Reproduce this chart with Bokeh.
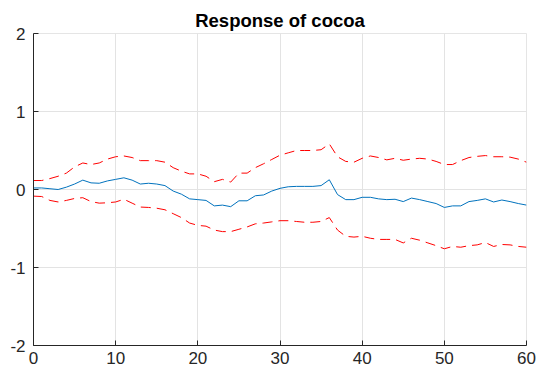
from bokeh.plotting import figure
from bokeh.models import Range1d, FixedTicker
from bokeh.embed import file_html
from bokeh.resources import INLINE

t = list(range(61))
response = [0.02, 0.02, 0.01, 0.0, 0.03, 0.07, 0.12, 0.085, 0.08, 0.11, 0.13, 0.15, 0.12, 0.07, 0.08, 0.07,
            0.05, -0.02, -0.06, -0.12, -0.13, -0.14, -0.21, -0.2, -0.22, -0.145, -0.145, -0.08, -0.07, -0.02, 0.015,
            0.035, 0.04, 0.04, 0.04, 0.05, 0.125, -0.065, -0.13, -0.13, -0.1, -0.1, -0.12, -0.13, -0.125, -0.155,
            -0.11, -0.13, -0.155, -0.18, -0.23, -0.21, -0.21, -0.155, -0.14, -0.12, -0.16, -0.135, -0.155, -0.18, -0.2]
upper = [0.115, 0.115, 0.14, 0.17, 0.21, 0.29, 0.34, 0.32, 0.34, 0.39, 0.42, 0.43, 0.41, 0.37, 0.37, 0.37,
         0.35, 0.28, 0.235, 0.2, 0.2, 0.17, 0.1, 0.13, 0.095, 0.21, 0.21, 0.28, 0.33, 0.385, 0.44,
         0.47, 0.5, 0.5, 0.5, 0.51, 0.585, 0.42, 0.36, 0.35, 0.4, 0.43, 0.41, 0.38, 0.4, 0.375,
         0.39, 0.4, 0.39, 0.36, 0.32, 0.32, 0.37, 0.41, 0.425, 0.435, 0.42, 0.42, 0.415, 0.39, 0.35]
lower = [-0.085, -0.09, -0.14, -0.16, -0.14, -0.115, -0.105, -0.155, -0.175, -0.17, -0.16, -0.125, -0.175, -0.225, -0.23, -0.24,
         -0.26, -0.31, -0.36, -0.43, -0.46, -0.47, -0.52, -0.54, -0.54, -0.51, -0.48, -0.44, -0.43, -0.415, -0.4,
         -0.4, -0.41, -0.42, -0.42, -0.41, -0.36, -0.52, -0.6, -0.61, -0.6, -0.625, -0.64, -0.64, -0.64, -0.685,
         -0.625, -0.65, -0.685, -0.72, -0.76, -0.73, -0.74, -0.72, -0.71, -0.68, -0.73, -0.705, -0.71, -0.73, -0.74]
x_ticks = [0, 10, 20, 30, 40, 50, 60]
y_ticks = [-2, -1, 0, 1, 2]
y_tick_labels = {-2: "-2", -1: "-1", 0: "0", 1: "1", 2: "2"}

p = figure(output_backend="svg", toolbar_location=None,
           width=541, height=372,
           min_border_left=33, min_border_top=33, min_border_right=15, min_border_bottom=27,
           x_range=Range1d(0, 60), y_range=Range1d(-2, 2),
           title="Response of cocoa")

p.title.text_font = "Liberation Sans"
p.title.text_font_size = "18.5px"
p.title.text_font_style = "bold"
p.title.align = "center"
p.title.text_color = "#000000"
p.title.standoff = 5

p.outline_line_color = "#e5e5e5"
p.outline_line_width = 1

for ax in (p.xaxis[0], p.yaxis[0]):
    ax.axis_line_color = "#262626"
    ax.major_tick_line_color = "#262626"
    ax.major_tick_in = 5
    ax.major_tick_out = 0
    ax.minor_tick_line_color = None
    ax.major_label_text_font = "Liberation Sans"
    ax.major_label_text_font_size = "17px"
    ax.major_label_text_color = "#262626"

p.xaxis[0].ticker = FixedTicker(ticks=x_ticks)
p.yaxis[0].ticker = FixedTicker(ticks=y_ticks)
p.yaxis[0].major_label_overrides = y_tick_labels
p.xaxis[0].major_label_standoff = 6
p.yaxis[0].major_label_standoff = 8

p.xgrid[0].ticker = FixedTicker(ticks=x_ticks)
p.ygrid[0].ticker = FixedTicker(ticks=y_ticks)
p.grid.grid_line_color = "#e3e3e3"
p.grid.grid_line_width = 1

p.line(t, upper, line_color="#ff0000", line_width=1, line_dash="10 6")
p.line(t, lower, line_color="#ff0000", line_width=1, line_dash="10 6")
p.line(t, response, line_color="#0072bd", line_width=1)

open("out.html", "w").write(file_html(p, INLINE))
